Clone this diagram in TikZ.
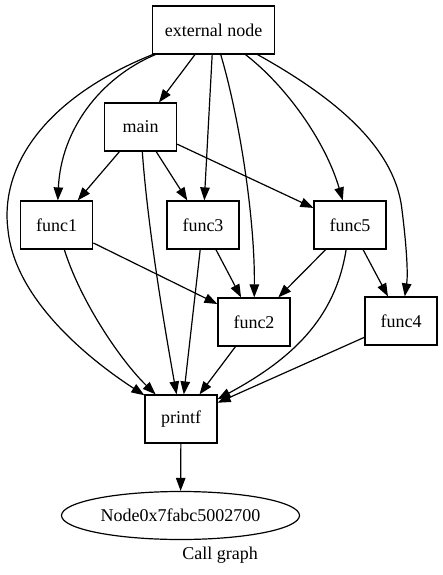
\documentclass[tikz,border=0pt]{standalone}
\usepackage{fontspec}
\setmainfont{Liberation Serif}
\usetikzlibrary{arrows.meta,shapes.geometric}
\begin{document}
\begin{tikzpicture}[x=1pt,y=-1pt,
  every node/.style={font=\fontsize{18}{20}\selectfont},
  fbox/.style={draw,rectangle,line width=1.2pt,minimum width=72pt,minimum height=48pt,inner sep=0pt},
  fell/.style={draw,ellipse,line width=1.2pt,minimum width=238pt,minimum height=48pt,inner sep=0pt},
  edge/.style={line width=1.2pt,-{Triangle[length=13pt,width=9.5pt]}}]
\useasboundingbox (0,0) rectangle (442,575);
\node[fbox,minimum width=122pt] (ext) at (213.5,30) {external node};
\node[fbox] (main) at (140.5,127) {main};
\node[fbox] (f1) at (56.7,225) {func1};
\node[fbox] (f3) at (203,225) {func3};
\node[fbox] (f5) at (350,225) {func5};
\node[fbox] (f2) at (254,322) {func2};
\node[fbox] (f4) at (401,321) {func4};
\node[fbox] (pf) at (181,419) {printf};
\node[fell] (nd) at (180.5,515.5) {Node0x7fabc5002700};
\node (cap) at (220,555) {Call graph};
% edges from external node
\draw[edge] (ext) -- (main);
\draw[edge] (ext) .. controls (100,78) and (61,130) .. (f1);
\draw[edge] (ext) .. controls (40,100) and (0,170) .. (8,230) .. controls (15,300) and (90,360) .. (pf);
\draw[edge] (ext) -- (f3);
\draw[edge] (ext) .. controls (240,120) and (255,220) .. (f2);
\draw[edge] (ext) .. controls (285,85) and (325,140) .. (f5);
\draw[edge] (ext) .. controls (330,95) and (395,145) .. (402,210) .. controls (407,250) and (408,275) .. (f4);
% edges from main
\draw[edge] (main) -- (f1);
\draw[edge] (main) -- (f3);
\draw[edge] (main) -- (f5);
\draw[edge] (main) .. controls (148,230) and (165,330) .. (pf);
% others
\draw[edge] (f1) -- (f2);
\draw[edge] (f1) .. controls (80,300) and (120,360) .. (pf);
\draw[edge] (f3) -- (f2);
\draw[edge] (f3) -- (pf);
\draw[edge] (f5) -- (f2);
\draw[edge] (f5) -- (f4);
\draw[edge] (f5) .. controls (335,320) and (290,360) .. (pf);
\draw[edge] (f2) -- (pf);
\draw[edge] (f4) -- (pf);
\draw[edge] (pf) -- (nd);
\end{tikzpicture}
\end{document}
